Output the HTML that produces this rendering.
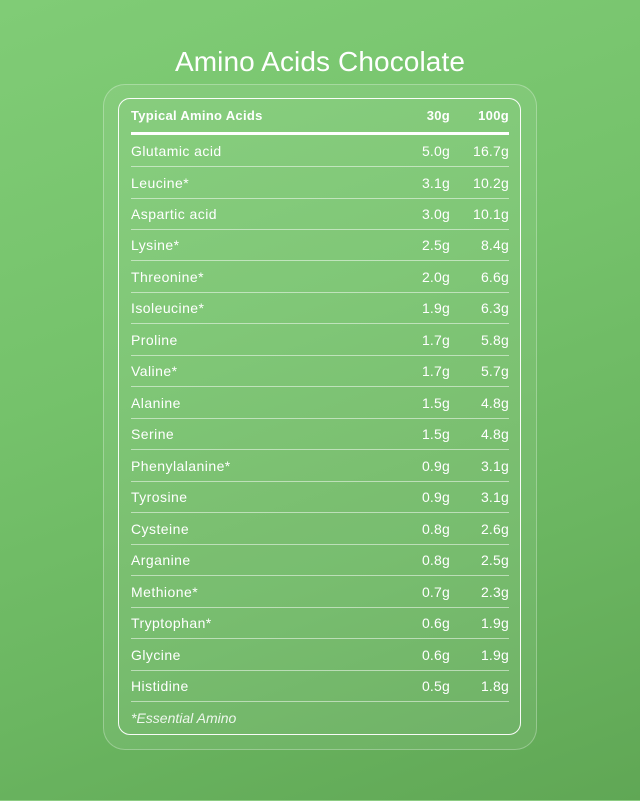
<!DOCTYPE html>
<html>
<head>
<meta charset="utf-8">
<style>
  html, body { margin:0; padding:0; }
  body {
    width:640px; height:801px; position:relative; overflow:hidden;
    background: linear-gradient(160deg, #80cc76 0%, #75c26b 40%, #6bb661 70%, #60a755 100%);
    font-family: "Liberation Sans", Arial, sans-serif;
    color:#ffffff;
  }
  .bottom { position:absolute; left:0; top:800px; width:640px; height:1px; background:#8ccc82; }
  .title {
    position:absolute; left:0; width:640px; top:46px; height:32px; line-height:32px;
    text-align:center; font-size:28px; font-weight:normal; letter-spacing:0.1px;
  }
  .outer {
    position:absolute; left:103px; top:84px; width:432px; height:664px;
    border:1px solid rgba(255,255,255,0.28); border-radius:22px;
    background: rgba(255,255,255,0.07);
  }
  .inner {
    position:absolute; left:118px; top:98px; width:401px; height:635px;
    border:1.5px solid rgba(255,255,255,0.95); border-radius:12px;
    background: rgba(255,255,255,0.02);
  }
  .t { position:absolute; height:16px; line-height:16px; white-space:nowrap; }
  .name { left:131px; font-size:14px; letter-spacing:0.45px; }
  .c1 { right:190px; font-size:14px; letter-spacing:0.2px; text-align:right; }
  .c2 { right:131px; font-size:14px; letter-spacing:0.2px; text-align:right; }
  .hdr { font-weight:bold; font-size:13px; letter-spacing:0.3px; }
  .thick { position:absolute; left:131px; width:378px; top:132px; height:3px; background:#fff; }
  .sep { position:absolute; left:131px; width:378px; height:1px; background:rgba(255,255,255,0.5); }
  .ess { position:absolute; left:131px; top:710px; height:16px; line-height:16px; font-size:14px; font-style:italic; color:rgba(255,255,255,0.88); }
</style>
</head>
<body>
<div class="title">Amino Acids Chocolate</div>
<div class="outer"></div>
<div class="inner"></div>

<div class="t name hdr" style="top:108px">Typical Amino Acids</div>
<div class="t c1 hdr" style="top:108px">30g</div>
<div class="t c2 hdr" style="top:108px">100g</div>
<div class="thick"></div>

<div class="t name" style="top:143px">Glutamic acid</div><div class="t c1" style="top:143px">5.0g</div><div class="t c2" style="top:143px">16.7g</div>
<div class="sep" style="top:166px"></div>
<div class="t name" style="top:174.5px">Leucine*</div><div class="t c1" style="top:174.5px">3.1g</div><div class="t c2" style="top:174.5px">10.2g</div>
<div class="sep" style="top:197.5px"></div>
<div class="t name" style="top:206px">Aspartic acid</div><div class="t c1" style="top:206px">3.0g</div><div class="t c2" style="top:206px">10.1g</div>
<div class="sep" style="top:229px"></div>
<div class="t name" style="top:237.4px">Lysine*</div><div class="t c1" style="top:237.4px">2.5g</div><div class="t c2" style="top:237.4px">8.4g</div>
<div class="sep" style="top:260.4px"></div>
<div class="t name" style="top:268.9px">Threonine*</div><div class="t c1" style="top:268.9px">2.0g</div><div class="t c2" style="top:268.9px">6.6g</div>
<div class="sep" style="top:291.9px"></div>
<div class="t name" style="top:300.4px">Isoleucine*</div><div class="t c1" style="top:300.4px">1.9g</div><div class="t c2" style="top:300.4px">6.3g</div>
<div class="sep" style="top:323.4px"></div>
<div class="t name" style="top:331.8px">Proline</div><div class="t c1" style="top:331.8px">1.7g</div><div class="t c2" style="top:331.8px">5.8g</div>
<div class="sep" style="top:354.8px"></div>
<div class="t name" style="top:363.3px">Valine*</div><div class="t c1" style="top:363.3px">1.7g</div><div class="t c2" style="top:363.3px">5.7g</div>
<div class="sep" style="top:386.3px"></div>
<div class="t name" style="top:394.8px">Alanine</div><div class="t c1" style="top:394.8px">1.5g</div><div class="t c2" style="top:394.8px">4.8g</div>
<div class="sep" style="top:417.8px"></div>
<div class="t name" style="top:426.2px">Serine</div><div class="t c1" style="top:426.2px">1.5g</div><div class="t c2" style="top:426.2px">4.8g</div>
<div class="sep" style="top:449.2px"></div>
<div class="t name" style="top:457.7px">Phenylalanine*</div><div class="t c1" style="top:457.7px">0.9g</div><div class="t c2" style="top:457.7px">3.1g</div>
<div class="sep" style="top:480.7px"></div>
<div class="t name" style="top:489.2px">Tyrosine</div><div class="t c1" style="top:489.2px">0.9g</div><div class="t c2" style="top:489.2px">3.1g</div>
<div class="sep" style="top:512.2px"></div>
<div class="t name" style="top:520.6px">Cysteine</div><div class="t c1" style="top:520.6px">0.8g</div><div class="t c2" style="top:520.6px">2.6g</div>
<div class="sep" style="top:543.6px"></div>
<div class="t name" style="top:552.1px">Arganine</div><div class="t c1" style="top:552.1px">0.8g</div><div class="t c2" style="top:552.1px">2.5g</div>
<div class="sep" style="top:575.1px"></div>
<div class="t name" style="top:583.6px">Methione*</div><div class="t c1" style="top:583.6px">0.7g</div><div class="t c2" style="top:583.6px">2.3g</div>
<div class="sep" style="top:606.6px"></div>
<div class="t name" style="top:615px">Tryptophan*</div><div class="t c1" style="top:615px">0.6g</div><div class="t c2" style="top:615px">1.9g</div>
<div class="sep" style="top:638px"></div>
<div class="t name" style="top:646.5px">Glycine</div><div class="t c1" style="top:646.5px">0.6g</div><div class="t c2" style="top:646.5px">1.9g</div>
<div class="sep" style="top:669.5px"></div>
<div class="t name" style="top:678px">Histidine</div><div class="t c1" style="top:678px">0.5g</div><div class="t c2" style="top:678px">1.8g</div>
<div class="sep" style="top:701px"></div>

<div class="ess">*Essential Amino</div>
<div class="bottom"></div>
</body>
</html>
